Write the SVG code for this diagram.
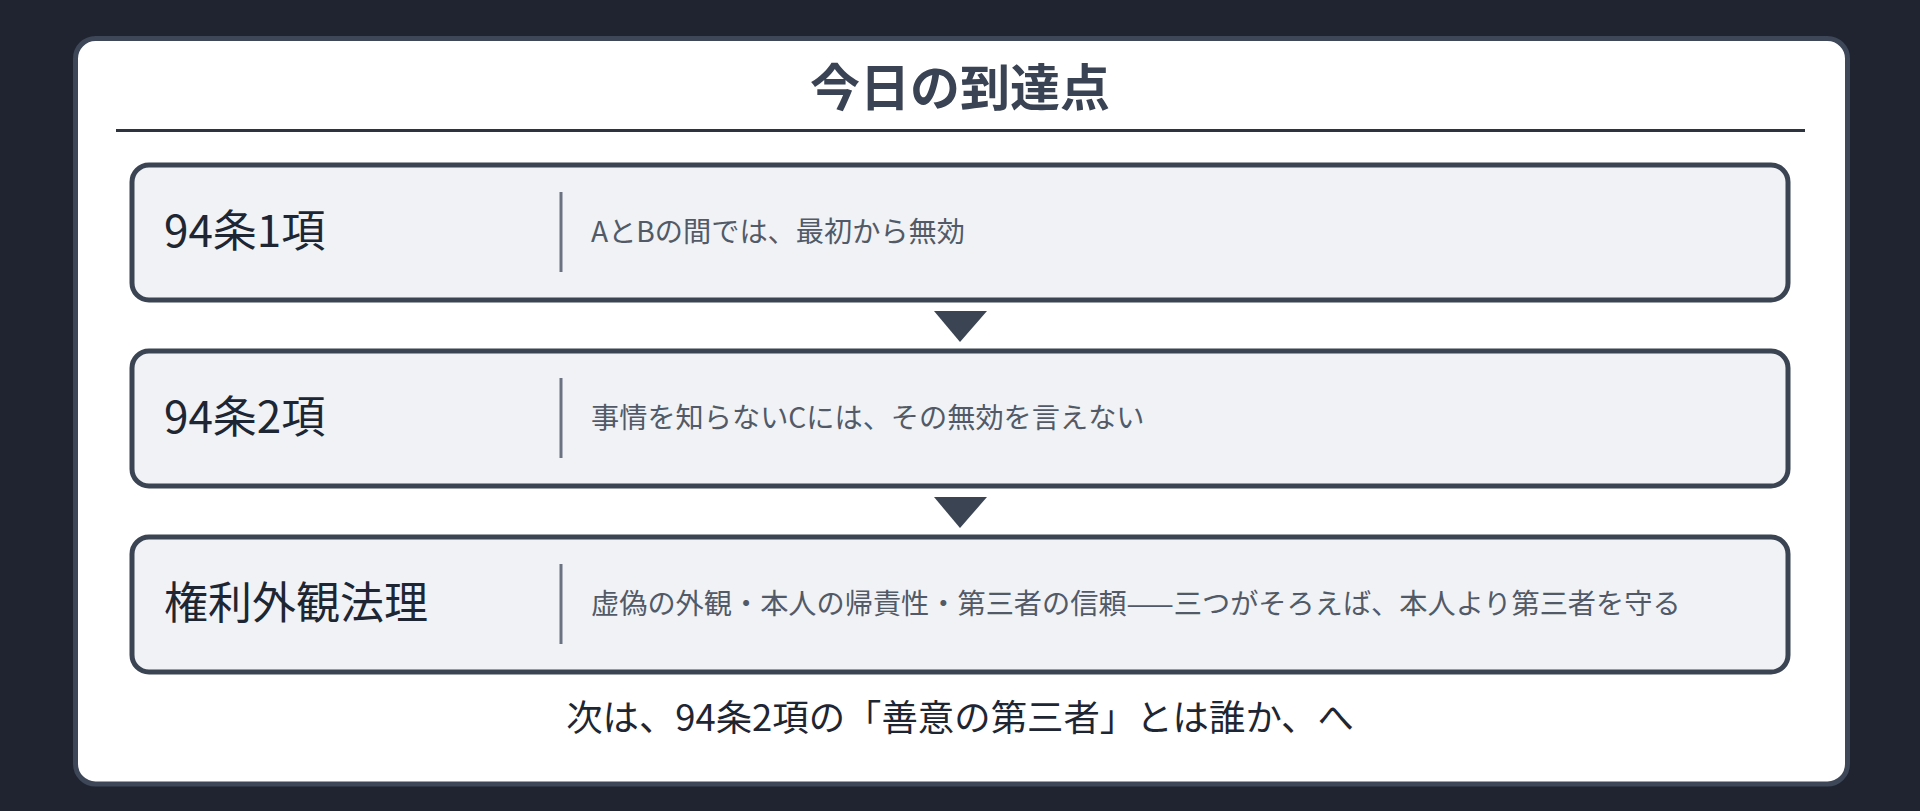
<svg xmlns="http://www.w3.org/2000/svg" width="1920" height="811" viewBox="0 0 1920 811">
<style>
.jp{font-family:"Noto Sans CJK JP","Noto Sans",sans-serif}
.title{font-size:50px;font-weight:700;fill:#3a4353}
.box{fill:#f0f2f5;stroke:#3b4453;stroke-width:5}
.lead{font-size:44px;fill:#1f2633}
.body{font-size:28.2px;fill:#525a67}
.div{stroke:#6b7382;stroke-width:3}
.foot{font-size:36.4px;fill:#1f2633}
.tri{fill:#3b4453}
</style>
<rect x="0" y="0" width="1920" height="811" fill="#1f2430"/>
<rect x="75.5" y="38.5" width="1772" height="745.5" rx="20" fill="#ffffff" stroke="#3e4757" stroke-width="5"/>
<g id="header">
<text class="jp title" x="960" y="106" text-anchor="middle">今日の到達点</text>
<line x1="116" y1="130.5" x2="1805" y2="130.5" stroke="#2d3440" stroke-width="3"/>
</g>
<g id="node1">
<rect class="box" x="132" y="165" width="1656" height="135" rx="17"/>
<text class="jp lead" x="164" y="247">94条1項</text>
<line class="div" x1="561" y1="192" x2="561" y2="272"/>
<text class="jp body" x="591" y="242">AとBの間では、最初から無効</text>
</g>
<g id="node2">
<rect class="box" x="132" y="351" width="1656" height="135" rx="17"/>
<text class="jp lead" x="164" y="433">94条2項</text>
<line class="div" x1="561" y1="378" x2="561" y2="458"/>
<text class="jp body" x="591" y="428">事情を知らないCには、その無効を言えない</text>
</g>
<g id="node3">
<rect class="box" x="132" y="537" width="1656" height="135" rx="17"/>
<text class="jp lead" x="164" y="619">権利外観法理</text>
<line class="div" x1="561" y1="564" x2="561" y2="644"/>
<text class="jp body" x="591" y="614">虚偽の外観・本人の帰責性・第三者の信頼——三つがそろえば、本人より第三者を守る</text>
</g>
<g id="connectors">
<polygon class="tri" points="934,311 987,311 960,342"/>
<polygon class="tri" points="934,497 987,497 960,528"/>
</g>
<g id="footer">
<text class="jp foot" x="960" y="731" text-anchor="middle">次は、94条2項の「善意の第三者」とは誰か、へ</text>
</g>
</svg>
